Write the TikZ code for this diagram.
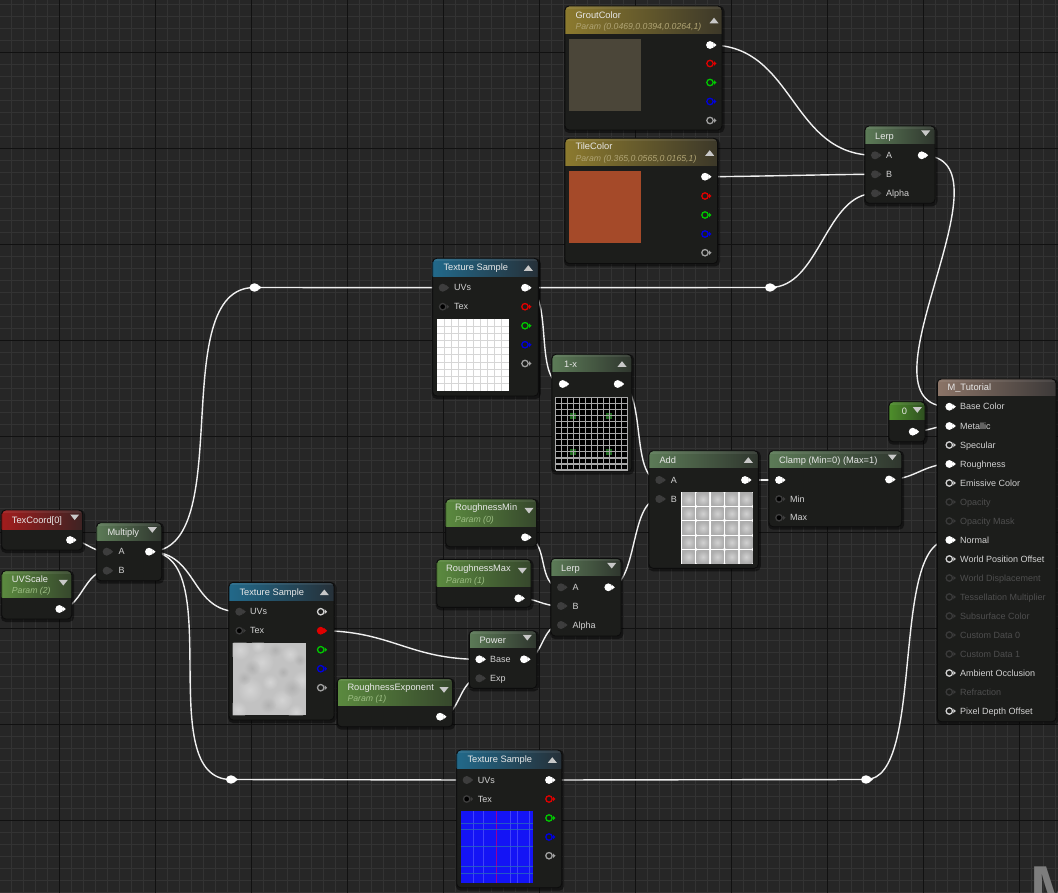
\documentclass[tikz,border=0pt]{standalone}
\usepackage{fontspec}
\setmainfont{Liberation Sans}
\usetikzlibrary{fit}
\pgfdeclarelayer{gridl}
\pgfdeclarelayer{wirel}
\pgfsetlayers{gridl,wirel,main}
\definecolor{bg}{HTML}{262626}
\definecolor{gminor}{HTML}{333333}
\definecolor{gmajor}{HTML}{111111}
\definecolor{bodyc}{HTML}{1C1D1B}
\definecolor{edgec}{HTML}{0C0C0C}
\definecolor{goldL}{HTML}{8C7A2E}\definecolor{goldR}{HTML}{3C3829}
\definecolor{texL}{HTML}{22698A}\definecolor{texR}{HTML}{263038}
\definecolor{mathL}{HTML}{5C7B57}\definecolor{mathR}{HTML}{2F362E}
\definecolor{parL}{HTML}{5B8A3F}\definecolor{parR}{HTML}{36472C}
\definecolor{constL}{HTML}{4E8E2B}\definecolor{constR}{HTML}{2E4F20}
\definecolor{redL}{HTML}{A21D1D}\definecolor{redR}{HTML}{3D2323}
\definecolor{matL}{HTML}{8B7467}\definecolor{matR}{HTML}{3C3938}
\definecolor{ttl}{HTML}{E8E8E8}
\definecolor{lbl}{HTML}{D2D2D2}
\definecolor{dimlbl}{HTML}{4E4E4E}
\definecolor{dimpin}{HTML}{3A3A3A}
\definecolor{goldsub}{HTML}{B0A474}
\definecolor{greensub}{HTML}{9DBE84}
\definecolor{pindk}{HTML}{3D3D3D}
\definecolor{pinred}{HTML}{E00000}
\definecolor{pingreen}{HTML}{00C800}
\definecolor{pinblue}{HTML}{0000E0}
\definecolor{pingray}{HTML}{A0A0A0}
\definecolor{tric}{HTML}{C8C8C8}
\definecolor{wirec}{HTML}{F0F0F0}
\definecolor{groutsw}{HTML}{4B4639}
\definecolor{tilesw}{HTML}{A54A29}
\definecolor{cloud}{HTML}{C2C2C2}
\definecolor{nblue}{HTML}{1414F5}
\definecolor{gsq}{HTML}{1F6A1F}
\definecolor{gline}{HTML}{A8A8A8}
\tikzset{
  title/.style={anchor=base west,inner sep=0pt,text=ttl,font=\fontsize{9.3}{11}\selectfont},
  subt/.style={anchor=base west,inner sep=0pt,font=\fontsize{8.7}{10}\selectfont\itshape},
  plabel/.style={anchor=base west,inner sep=0pt,text=lbl,font=\fontsize{9}{10}\selectfont},
  wire/.style={draw=wirec,line width=1.4pt},
  tri/.style={fill=tric},
}
\newcommand\uebox[8]{%
  \fill[black,opacity=.45,rounded corners=5pt] (#2-1,#3) rectangle (#4+2.5,#5+3);
  \fill[bodyc,rounded corners=4pt] (#2,#3) rectangle (#4,#5);
  \begin{scope}
    \clip[rounded corners=4pt] (#2,#3) rectangle (#4,#5);
    \shade[left color=#7,right color=#8] (#2,#3) rectangle (#4,#6);
    \fill[white,opacity=.07] (#2,#3) rectangle (#4,#3+3);
  \end{scope}
  \draw[edgec,line width=.9pt,rounded corners=4pt] (#2,#3) rectangle (#4,#5);
  \node[fit={(#2,#3) (#4,#5)},inner sep=0pt] (#1) {};
}
\newcommand\tup[2]{\fill[tri] (#1-4.5,#2+2.8) -- (#1+4.5,#2+2.8) -- (#1,#2-2.8) -- cycle;}
\newcommand\tdn[2]{\fill[tri] (#1-4.5,#2-2.8) -- (#1+4.5,#2-2.8) -- (#1,#2+2.8) -- cycle;}
\newcommand\pinF[4]{\coordinate (#1) at (#2,#3);
  \fill[#4] (#2,#3) circle[radius=3.9];
  \fill[#4] (#2+3.4,#3-2.6) -- (#2+6.5,#3) -- (#2+3.4,#3+2.6) -- cycle;}
\newcommand\pinR[4]{\coordinate (#1) at (#2,#3);
  \draw[#4,line width=1.3pt] (#2,#3) circle[radius=3.2];
  \fill[#4] (#2+4,#3-2.3) -- (#2+6.5,#3) -- (#2+4,#3+2.3) -- cycle;}
\newcommand\pinD[3]{\coordinate (#1) at (#2,#3);
  \fill[pindk] (#2,#3) circle[radius=4];
  \fill[pindk] (#2+3.4,#3-2.6) -- (#2+6.5,#3) -- (#2+3.4,#3+2.6) -- cycle;}
\newcommand\pinDR[3]{\coordinate (#1) at (#2,#3);
  \draw[pindk,fill=black,line width=1.3pt] (#2,#3) circle[radius=3.2];
  \fill[pindk] (#2+4,#3-2.3) -- (#2+6.5,#3) -- (#2+4,#3+2.3) -- cycle;}
\newcommand\plab[4]{\node[plabel] (#1) at (#2,#3+3.2) {#4};}
\newcommand\dlab[4]{\node[plabel,text=dimlbl] (#1) at (#2,#3+3.2) {#4};}
\newcommand\reroute[3]{\coordinate (#1) at (#2,#3);
  \fill[white] (#2,#3) ellipse[x radius=5,y radius=4.2];
  \fill[white] (#2+4.2,#3-2.2) -- (#2+7,#3) -- (#2+4.2,#3+2.2) -- cycle;}
\begin{document}
\begin{tikzpicture}[x=1pt,y=-1pt]
\useasboundingbox (0,0) rectangle (1058,893);
\begin{pgfonlayer}{gridl}
  \fill[bg] (0,0) rectangle (1058,893);
  \foreach \x in {-0.7,11.3,...,1058} \draw[gminor,line width=1pt] (\x,0) -- (\x,893);
  \foreach \y in {4.3,16.3,...,893} \draw[gminor,line width=1pt] (0,\y) -- (1058,\y);
  \foreach \x in {59.3,155.3,...,1058} \draw[gmajor,line width=1.1pt] (\x,0) -- (\x,893);
  \foreach \y in {52.3,148.3,...,893} \draw[gmajor,line width=1.1pt] (0,\y) -- (1058,\y);
  \node[anchor=north west,inner sep=0pt,text=white!40!bg,font=\fontsize{62}{62}\selectfont\bfseries] (wm) at (1030.5,866.7) {M};
\end{pgfonlayer}

% ---------- GroutColor
\uebox{grout}{565}{6}{722}{130}{33.3}{goldL}{goldR}
\node[title] (groutT) at (575.3,18.4) {GroutColor};
\node[subt,text=goldsub] (groutS) at (575.3,29.8) {Param (0.0469,0.0394,0.0264,1)};
\tup{714}{20.5}
\fill[groutsw] (569,39) rectangle (641,111);
\pinF{groutW}{710}{45}{white}
\pinR{groutR}{710}{63.5}{pinred}
\pinR{groutG}{710}{82.5}{pingreen}
\pinR{groutB}{710}{101.5}{pinblue}
\pinR{groutA}{710}{120.5}{pingray}

% ---------- TileColor
\uebox{tile}{565}{138.3}{717.5}{263.5}{165.7}{goldL}{goldR}
\node[title] (tileT) at (575.3,150) {TileColor};
\node[subt,text=goldsub] (tileS) at (575.3,161.4) {Param (0.365,0.0565,0.0165,1)};
\tup{709.7}{153}
\fill[tilesw] (569,171) rectangle (641,242.7);
\pinF{tileW}{705}{176.7}{white}
\pinR{tileR}{705}{196}{pinred}
\pinR{tileG}{705}{215}{pingreen}
\pinR{tileB}{705}{234}{pinblue}
\pinR{tileA}{705}{252.7}{pingray}

% ---------- Lerp (top)
\uebox{lerpT}{865}{126}{935}{203.3}{143.3}{mathL}{mathR}
\node[title] (lerpTT) at (875,139.3) {Lerp};
\tdn{925.7}{133.3}
\pinD{lerpTA}{875}{155.3}\plab{lerpTAl}{886}{155.3}{A}
\pinD{lerpTB}{875}{174.3}\plab{lerpTBl}{886}{174.3}{B}
\pinD{lerpTAlpha}{875}{193.3}\plab{lerpTAlphal}{886}{193.3}{Alpha}
\pinF{lerpTO}{921.7}{155.3}{white}

% ---------- Texture Sample (top)
\uebox{tsT}{432.7}{258.3}{538.3}{396}{276.7}{texL}{texR}
\node[title] (tsTT) at (443.3,271) {Texture Sample};
\tup{528.3}{268}
\pinD{tsTuv}{442.7}{287.7}\plab{tsTuvl}{454}{287.7}{UVs}
\pinDR{tsTtex}{442.7}{306.7}\plab{tsTtexl}{454}{306.7}{Tex}
\fill[white] (437.3,319) rectangle (509,390.7);
\foreach \i in {1,...,9} {
  \draw[black!16,line width=.9pt] (437.3+\i*7.17,319) -- (437.3+\i*7.17,390.7);
  \draw[black!16,line width=.9pt] (437.3,319+\i*7.17) -- (509,319+\i*7.17);
}
\pinF{tsTo}{525}{287.7}{white}
\pinR{tsTr}{525}{306.7}{pinred}
\pinR{tsTg}{525}{325.7}{pingreen}
\pinR{tsTb}{525}{344.7}{pinblue}
\pinR{tsTa}{525}{363.5}{pingray}

% ---------- 1-x
\uebox{onem}{552}{354.3}{631.7}{471.7}{371.7}{mathL}{mathR}
\node[title] (onemT) at (564,367.3) {1-x};
\tup{622}{364}
\fill[black] (555.7,397.3) rectangle (627.7,470);
\fill[gsq] (570.1,412.5) rectangle (575.9,418.6);
\fill[gsq] (606.1,412.5) rectangle (611.9,418.6);
\fill[gsq] (570.1,448.9) rectangle (575.9,455);
\fill[gsq] (606.1,448.9) rectangle (611.9,455);
\foreach \i in {0,...,12} {
  \draw[gline,line width=1.3pt] (555.7+\i*6,397.3) -- (555.7+\i*6,470);
  \draw[gline,line width=1.3pt] (555.7,397.3+\i*6.06) -- (627.7,397.3+\i*6.06);
}
\pinF{onemI}{562.7}{384}{white}
\pinF{onemO}{617.7}{384}{white}

% ---------- Add
\uebox{add}{649}{450.7}{758.3}{568.3}{467.3}{mathL}{mathR}
\node[title] (addT) at (659.3,463.3) {Add};
\tup{748.3}{460}
\pinD{addA}{659.3}{480}\plab{addAl}{670.7}{480}{A}
\pinD{addB}{659.3}{499}\plab{addBl}{670.7}{499}{B}
\fill[white] (681,491.7) rectangle (753.3,564);
\foreach \i in {0,...,4} \foreach \j in {0,...,4} {
  \shade[inner color=black!18,outer color=black!32] (682.2+\i*14.4,492.9+\j*14.4) rectangle +(12.6,12.6);
}
\pinF{addO}{745}{480}{white}

% ---------- Clamp
\uebox{clamp}{769}{450.7}{901.7}{526.7}{467.3}{mathL}{mathR}
\node[title] (clampT) at (779,463.3) {Clamp (Min=0) (Max=1)};
\tdn{892.3}{457.3}
\pinF{clampI}{779}{480}{white}
\pinDR{clampMin}{779}{499}\plab{clampMinl}{790}{499}{Min}
\pinDR{clampMax}{779}{517.7}\plab{clampMaxl}{790}{517.7}{Max}
\pinF{clampO}{889}{479.5}{white}

% ---------- Constant 0
\uebox{zero}{889}{401.7}{925}{441.7}{419.3}{constL}{constR}
\node[title] (zeroT) at (901.7,414.6) {0};
\tdn{917.3}{410}
\pinF{zeroO}{912.7}{431.7}{white}

% ---------- M_Tutorial
\uebox{mat}{937.3}{379}{1056}{721.7}{395}{matL}{matR}
\node[title] (matT) at (947.3,390) {M\_Tutorial};
\pinF{mBase}{949.3}{406.7}{white}\plab{lBase}{960}{406.7}{Base Color}
\pinF{mMetal}{949.3}{426}{white}\plab{lMetal}{960}{426}{Metallic}
\pinR{mSpec}{949.3}{445}{lbl}\plab{lSpec}{960}{445}{Specular}
\pinF{mRough}{949.3}{464}{white}\plab{lRough}{960}{464}{Roughness}
\pinR{mEmis}{949.3}{483}{lbl}\plab{lEmis}{960}{483}{Emissive Color}
\pinR{mOpac}{949.3}{502}{dimpin}\dlab{lOpac}{960}{502}{Opacity}
\pinR{mOpM}{949.3}{521}{dimpin}\dlab{lOpM}{960}{521}{Opacity Mask}
\pinF{mNorm}{949.3}{540}{white}\plab{lNorm}{960}{540}{Normal}
\pinR{mWPO}{949.3}{559}{lbl}\plab{lWPO}{960}{559}{World Position Offset}
\pinR{mWD}{949.3}{578}{dimpin}\dlab{lWD}{960}{578}{World Displacement}
\pinR{mTM}{949.3}{597}{dimpin}\dlab{lTM}{960}{597}{Tessellation Multiplier}
\pinR{mSC}{949.3}{616}{dimpin}\dlab{lSC}{960}{616}{Subsurface Color}
\pinR{mCD0}{949.3}{635}{dimpin}\dlab{lCD0}{960}{635}{Custom Data 0}
\pinR{mCD1}{949.3}{654}{dimpin}\dlab{lCD1}{960}{654}{Custom Data 1}
\pinR{mAO}{949.3}{673}{lbl}\plab{lAO}{960}{673}{Ambient Occlusion}
\pinR{mRef}{949.3}{692}{dimpin}\dlab{lRef}{960}{692}{Refraction}
\pinR{mPDO}{949.3}{711}{lbl}\plab{lPDO}{960}{711}{Pixel Depth Offset}

% ---------- TexCoord
\uebox{texc}{1.7}{510}{82.7}{550}{529.3}{redL}{redR}
\node[title] (texcT) at (11.7,523.3) {TexCoord[0]};
\tdn{74.7}{517.3}
\pinF{texcO}{70}{540}{white}

% ---------- Multiply
\uebox{mul}{96.7}{522.7}{161.7}{580.7}{540}{mathL}{mathR}
\node[title] (mulT) at (107.3,535.6) {Multiply};
\tdn{152.3}{530}
\pinD{mulA}{106.7}{551.7}\plab{mulAl}{118.3}{551.7}{A}
\pinD{mulB}{106.7}{570.7}\plab{mulBl}{118.3}{570.7}{B}
\pinF{mulO}{149}{551.7}{white}

% ---------- UVScale
\uebox{uvs}{1.7}{570.7}{71.7}{619}{597.7}{parL}{parR}
\node[title] (uvsT) at (11.7,582.3) {UVScale};
\node[subt,text=greensub] (uvsS) at (11.7,593.8) {Param (2)};
\tdn{63.3}{582.7}
\pinF{uvsO}{59.3}{609}{white}

% ---------- Texture Sample (middle)
\uebox{tsM}{229}{582.3}{334}{720}{600.7}{texL}{texR}
\node[title] (tsMT) at (239.3,595) {Texture Sample};
\tup{324.3}{592.3}
\pinD{tsMuv}{239.3}{611.7}\plab{tsMuvl}{250}{611.7}{UVs}
\pinDR{tsMtex}{239.3}{630.7}\plab{tsMtexl}{250}{630.7}{Tex}
\fill[cloud] (232.7,642.7) rectangle (305.7,715);
\begin{scope}
  \clip (232.7,642.7) rectangle (305.7,715);
  \foreach \a/\b/\r in {240/650/10,262/662/12,290/654/9,250/690/13,282/700/11,302/680/10,270/682/8,238/710/9,296/712/8,258/646/7}
    \shade[inner color=white,outer color=cloud,opacity=.3] (\a,\b) circle[radius=\r];
  \foreach \a/\b/\r in {252/668/8,275/650/7,292/688/9,244/678/7,268/705/8,300/660/6,283/672/6}
    \shade[inner color=black!45,outer color=cloud,opacity=.3] (\a,\b) circle[radius=\r];
\end{scope}
\pinR{tsMw}{320.7}{611.7}{lbl}
\pinF{tsMred}{320.7}{630.7}{pinred}
\pinR{tsMg}{320.7}{649.7}{pingreen}
\pinR{tsMb}{320.7}{668.7}{pinblue}
\pinR{tsMa}{320.7}{687.7}{pingray}

% ---------- Power
\uebox{pow}{469.3}{630.7}{536.7}{688.3}{647.3}{mathL}{mathR}
\node[title] (powT) at (479.3,643.3) {Power};
\tdn{527.3}{637.7}
\pinF{powBase}{479.3}{659.3}{white}\plab{powBasel}{490}{659.3}{Base}
\pinD{powExp}{479.3}{678.3}\plab{powExpl}{490}{678.3}{Exp}
\pinF{powO}{524}{659.3}{white}

% ---------- RoughnessExponent
\uebox{rexp}{337.3}{678.3}{452.7}{726.7}{705}{parL}{parR}
\node[title] (rexpT) at (347.3,690) {RoughnessExponent};
\node[subt,text=greensub] (rexpS) at (347.3,701.4) {Param (1)};
\tdn{444}{690}
\pinF{rexpO}{440}{716.7}{white}

% ---------- RoughnessMin
\uebox{rmin}{445.7}{499}{536.7}{546.7}{526}{parL}{parR}
\node[title] (rminT) at (455,510) {RoughnessMin};
\node[subt,text=greensub] (rminS) at (455,522.1) {Param (0)};
\tdn{529}{510.7}
\pinF{rminO}{525}{537.3}{white}

% ---------- RoughnessMax
\uebox{rmax}{436.7}{559.3}{531}{607.3}{586.7}{parL}{parR}
\node[title] (rmaxT) at (446,571) {RoughnessMax};
\node[subt,text=greensub] (rmaxS) at (446,583.1) {Param (1)};
\tdn{522.3}{570.7}
\pinF{rmaxO}{518.3}{598.3}{white}

% ---------- Lerp (middle)
\uebox{lerpM}{551}{558.3}{621}{636}{575}{mathL}{mathR}
\node[title] (lerpMT) at (561,571) {Lerp};
\tdn{611.7}{565.7}
\pinD{lerpMA}{561}{587.3}\plab{lerpMAl}{572.3}{587.3}{A}
\pinD{lerpMB}{561}{606}\plab{lerpMBl}{572.3}{606}{B}
\pinD{lerpMAlpha}{561}{625}\plab{lerpMAlphal}{572.3}{625}{Alpha}
\pinF{lerpMO}{608.3}{587.3}{white}

% ---------- Texture Sample (bottom)
\uebox{tsB}{456.7}{750}{561.7}{887.7}{768.3}{texL}{texR}
\node[title] (tsBT) at (467.3,762.6) {Texture Sample};
\tup{552.3}{760}
\pinD{tsBuv}{466.7}{780}\plab{tsBuvl}{477.7}{780}{UVs}
\pinDR{tsBtex}{466.7}{799}\plab{tsBtexl}{477.7}{799}{Tex}
\fill[nblue] (461,811) rectangle (532.7,883.3);
\foreach \v in {12.3,22,49,56.7,68.3}
  \draw[blue!55!white!70!nblue,line width=.8pt,opacity=.7] (461+\v,811) -- (461+\v,883.3);
\draw[violet!80!magenta,line width=1pt] (496,811) -- (496,883.3);
\foreach \h in {12.3,18.3,35.7,55.7,62}
  \draw[cyan!40!nblue,line width=.8pt,opacity=.8] (461,811+\h) -- (532.7,811+\h);
\pinF{tsBo}{549}{780}{white}
\pinR{tsBr}{549}{799}{pinred}
\pinR{tsBg}{549}{818}{pingreen}
\pinR{tsBb}{549}{837}{pinblue}
\pinR{tsBa}{549}{855.7}{pingray}

% ---------- reroute nodes
\reroute{r1}{254.5}{287.5}
\reroute{r2}{770}{287.5}
\reroute{r3}{231}{779.5}
\reroute{r4}{866}{779.5}

% ---------- wires
\begin{pgfonlayer}{wirel}
  \draw[wire] (texcO) .. controls +(15,0) and +(-15,0) .. (mulA);
  \draw[wire] (uvsO) .. controls +(22,0) and +(-22,0) .. (mulB);
  \draw[wire] (mulO) .. controls +(90,0) and +(-90,0) .. (r1);
  \draw[wire] (mulO) .. controls +(50,0) and +(-50,0) .. (tsMuv);
  \draw[wire] (mulO) .. controls +(80,0) and +(-80,0) .. (r3);
  \draw[wire] (r1) -- (tsTuv);
  \draw[wire] (r3) -- (tsBuv);
  \draw[wire] (tsTo) -- (r2);
  \draw[wire] (r2) .. controls +(50,0) and +(-50,0) .. (lerpTAlpha);
  \draw[wire] (tsTo) .. controls +(30,0) and +(-30,0) .. (onemI);
  \draw[wire] (onemO) .. controls +(30,0) and +(-30,0) .. (addA);
  \draw[wire] (lerpMO) .. controls +(30,0) and +(-30,0) .. (addB);
  \draw[wire] (addO) -- (clampI);
  \draw[wire] (clampO) .. controls +(25,0) and +(-25,0) .. (mRough);
  \draw[wire] (groutW) .. controls +(85,0) and +(-85,0) .. (lerpTA);
  \draw[wire] (tileW) .. controls +(40,0) and +(-40,0) .. (lerpTB);
  \draw[wire] (lerpTO) .. controls +(100,0) and +(-100,0) .. (mBase);
  \draw[wire] (zeroO) .. controls +(15,0) and +(-15,0) .. (mMetal);
  \draw[wire] (tsBo) -- (r4);
  \draw[wire] (r4) .. controls +(60,0) and +(-60,0) .. (mNorm);
  \draw[wire] (rminO) .. controls +(25,0) and +(-25,0) .. (lerpMA);
  \draw[wire] (rmaxO) .. controls +(20,0) and +(-20,0) .. (lerpMB);
  \draw[wire] (powO) .. controls +(20,0) and +(-20,0) .. (lerpMAlpha);
  \draw[wire] (tsMred) .. controls +(70,0) and +(-70,0) .. (powBase);
  \draw[wire] (rexpO) .. controls +(20,0) and +(-20,0) .. (powExp);
\end{pgfonlayer}
\end{tikzpicture}
\end{document}
